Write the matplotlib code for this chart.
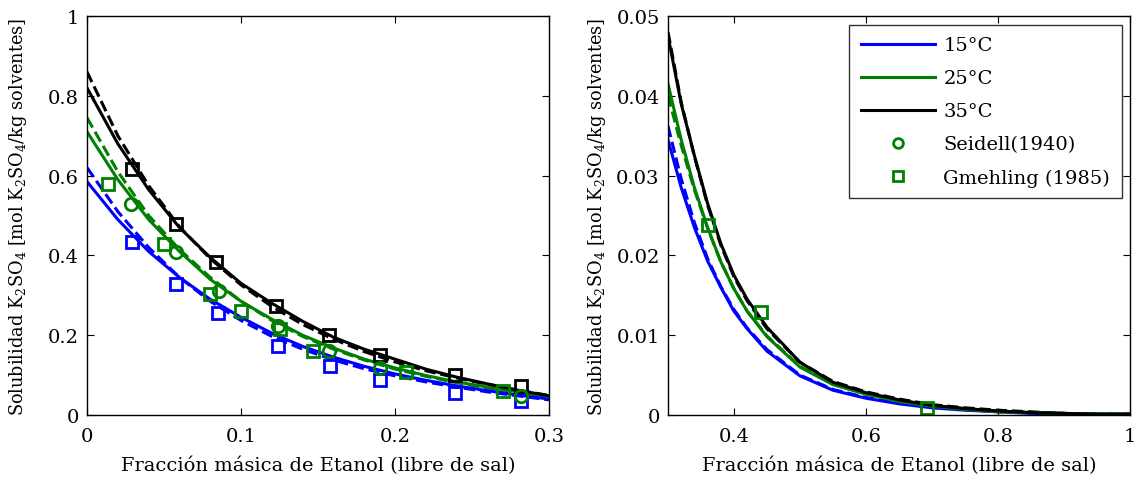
import matplotlib
matplotlib.use("Agg")
import matplotlib.pyplot as plt

plt.rcParams['font.family'] = ['DejaVu Serif']
plt.rcParams['mathtext.fontset'] = 'dejavuserif'

# ---------------- data: left panel ----------------
x_left = [0, 0.02, 0.04, 0.06, 0.08, 0.10, 0.12, 0.14, 0.16, 0.18, 0.20, 0.22, 0.24, 0.26, 0.28, 0.30]
s35_solid_l = [0.82, 0.68, 0.565, 0.47, 0.395, 0.33, 0.28, 0.235, 0.195, 0.165, 0.14, 0.115, 0.095, 0.078, 0.062, 0.048]
s35_dash_l = [0.86, 0.70, 0.575, 0.472, 0.392, 0.326, 0.272, 0.227, 0.19, 0.159, 0.133, 0.111, 0.093, 0.077, 0.062, 0.049]
s25_solid_l = [0.71, 0.59, 0.49, 0.41, 0.34, 0.285, 0.24, 0.2, 0.168, 0.14, 0.118, 0.099, 0.083, 0.07, 0.058, 0.047]
s25_dash_l = [0.745, 0.61, 0.50, 0.415, 0.345, 0.285, 0.237, 0.197, 0.165, 0.138, 0.115, 0.097, 0.081, 0.068, 0.057, 0.046]
s15_solid_l = [0.585, 0.49, 0.41, 0.345, 0.29, 0.245, 0.205, 0.172, 0.145, 0.122, 0.103, 0.087, 0.073, 0.061, 0.05, 0.04]
s15_dash_l = [0.62, 0.51, 0.42, 0.345, 0.285, 0.237, 0.197, 0.165, 0.138, 0.116, 0.098, 0.083, 0.07, 0.058, 0.048, 0.038]

gm35_x = [0.029, 0.058, 0.084, 0.123, 0.157, 0.19, 0.239, 0.282]
gm35_y = [0.617, 0.479, 0.383, 0.273, 0.2, 0.15, 0.1, 0.073]
gm15_x = [0.029, 0.058, 0.085, 0.124, 0.158, 0.19, 0.239, 0.282]
gm15_y = [0.434, 0.328, 0.256, 0.173, 0.123, 0.088, 0.055, 0.035]
gm25_x = [0.0136, 0.05, 0.08, 0.1, 0.125, 0.147, 0.207, 0.27]
gm25_y = [0.579, 0.429, 0.303, 0.261, 0.215, 0.16, 0.108, 0.06]
sei25_x = [0.0286, 0.058, 0.086, 0.124, 0.157, 0.19, 0.282]
sei25_y = [0.529, 0.408, 0.31, 0.223, 0.16, 0.118, 0.048]

# ---------------- data: right panel ----------------
x_right = [0.30, 0.32, 0.34, 0.36, 0.38, 0.40, 0.42, 0.45, 0.50, 0.55, 0.60, 0.65, 0.70, 0.75, 0.80, 0.85, 0.90, 0.95, 1.0]
s35_solid_r = [0.0475, 0.039, 0.0325, 0.0265, 0.0215, 0.0175, 0.0145, 0.011, 0.0066, 0.0041, 0.0028, 0.0019, 0.0012, 0.0008, 0.0005, 0.0003, 0.0002, 0.0001, 0.0001]
s35_dash_r = [0.048, 0.0392, 0.0324, 0.0263, 0.0213, 0.0173, 0.0143, 0.0108, 0.0066, 0.0042, 0.0029, 0.002, 0.0013, 0.0009, 0.0006, 0.0004, 0.0002, 0.0001, 0.0001]
s25_solid_r = [0.0415, 0.0345, 0.0285, 0.0235, 0.0192, 0.0158, 0.013, 0.0098, 0.006, 0.0038, 0.0026, 0.0017, 0.0011, 0.0007, 0.0004, 0.0003, 0.0002, 0.0001, 0.0001]
s25_dash_r = [0.040, 0.0338, 0.0282, 0.0234, 0.0192, 0.0158, 0.013, 0.0099, 0.0061, 0.0039, 0.0027, 0.0018, 0.0012, 0.0008, 0.0005, 0.0003, 0.0002, 0.0001, 0.0001]
s15_solid_r = [0.0345, 0.0285, 0.0235, 0.0193, 0.016, 0.013, 0.0108, 0.008, 0.0049, 0.0031, 0.0021, 0.0014, 0.0009, 0.0006, 0.0004, 0.0002, 0.0001, 0.0001, 0.0001]
s15_dash_r = [0.0362, 0.0296, 0.0241, 0.0196, 0.0161, 0.0132, 0.0109, 0.0082, 0.005, 0.0032, 0.0022, 0.0015, 0.001, 0.0007, 0.0004, 0.0003, 0.0002, 0.0001, 0.0001]
gm25_rx = [0.361, 0.441, 0.692]
gm25_ry = [0.0238, 0.0129, 0.0009]

xlabel = 'Fracción másica de Etanol (libre de sal)'
ylabel = 'Solubilidad K$_2$SO$_4$ [mol K$_2$SO$_4$/kg solventes]'

BLUE = '#0000ff'
GREEN = '#008000'
BLACK = '#000000'
FS = 14
YFS = 12.8
LW = 2.2
MS = 9
MEW = 2

fig = plt.figure(figsize=(11.41, 4.81), dpi=100)
ax1 = fig.add_axes([87/1141, 1 - 416/481, 462/1141, 399/481])
ax2 = fig.add_axes([668/1141, 1 - 416/481, 462/1141, 399/481])

def style(ax):
    ax.tick_params(direction='in', top=True, right=True, labelsize=FS, length=5, width=0.8, colors='black')
    ax.tick_params(axis='x', pad=9)
    ax.tick_params(axis='y', pad=6)
    for s in ax.spines.values():
        s.set_linewidth(1.0)
        s.set_color('black')
    ax.set_xlabel(xlabel, fontsize=FS, labelpad=7)
    ax.set_ylabel(ylabel, fontsize=YFS, labelpad=4)

# left panel
ax1.plot(x_left, s15_dash_l, '--', color=BLUE, lw=LW)
ax1.plot(x_left, s25_dash_l, '--', color=GREEN, lw=LW)
ax1.plot(x_left, s35_dash_l, '--', color=BLACK, lw=LW)
ax1.plot(x_left, s15_solid_l, '-', color=BLUE, lw=LW)
ax1.plot(x_left, s25_solid_l, '-', color=GREEN, lw=LW)
ax1.plot(x_left, s35_solid_l, '-', color=BLACK, lw=LW)
ax1.plot(gm35_x, gm35_y, 's', ms=MS, mfc='none', mec=BLACK, mew=MEW)
ax1.plot(gm15_x, gm15_y, 's', ms=MS, mfc='none', mec=BLUE, mew=MEW)
ax1.plot(gm25_x, gm25_y, 's', ms=MS, mfc='none', mec=GREEN, mew=MEW)
ax1.plot(sei25_x, sei25_y, 'o', ms=MS, mfc='none', mec=GREEN, mew=MEW)
ax1.set_xlim(0, 0.3)
ax1.set_ylim(0, 1)
ax1.set_xticks([0, 0.1, 0.2, 0.3])
ax1.set_xticklabels(['0', '0.1', '0.2', '0.3'])
ax1.set_yticks([0, 0.2, 0.4, 0.6, 0.8, 1])
ax1.set_yticklabels(['0', '0.2', '0.4', '0.6', '0.8', '1'])
style(ax1)

# right panel
ax2.plot(x_right, s15_dash_r, '--', color=BLUE, lw=LW)
ax2.plot(x_right, s25_dash_r, '--', color=GREEN, lw=LW)
ax2.plot(x_right, s35_dash_r, '--', color=BLACK, lw=LW)
h15, = ax2.plot(x_right, s15_solid_r, '-', color=BLUE, lw=LW, label='15°C')
h25, = ax2.plot(x_right, s25_solid_r, '-', color=GREEN, lw=LW, label='25°C')
h35, = ax2.plot(x_right, s35_solid_r, '-', color=BLACK, lw=LW, label='35°C')
hs, = ax2.plot([], [], 'o', ms=7, mfc='none', mec=GREEN, mew=MEW, label='Seidell(1940)')
hg, = ax2.plot(gm25_rx, gm25_ry, 's', ms=MS, mfc='none', mec=GREEN, mew=MEW, label='Gmehling (1985)')
ax2.set_xlim(0.3, 1)
ax2.set_ylim(0, 0.05)
ax2.set_xticks([0.4, 0.6, 0.8, 1.0])
ax2.set_xticklabels(['0.4', '0.6', '0.8', '1'])
ax2.set_yticks([0, 0.01, 0.02, 0.03, 0.04, 0.05])
ax2.set_yticklabels(['0', '0.01', '0.02', '0.03', '0.04', '0.05'])
style(ax2)

hg_leg, = ax2.plot([], [], 's', ms=7, mfc='none', mec=GREEN, mew=MEW)
leg = ax2.legend([h15, h25, h35, hs, hg_leg],
                 ['15°C', '25°C', '35°C', 'Seidell(1940)', 'Gmehling (1985)'],
                 loc='upper right', bbox_to_anchor=(0.982, 0.978), borderaxespad=0,
                 fontsize=FS, frameon=True, fancybox=False, handlelength=3.8,
                 labelspacing=0.77, borderpad=0.6, handletextpad=0.45)
leg.get_frame().set_edgecolor('black')
leg.get_frame().set_linewidth(1.0)

ax1.yaxis.set_label_coords(-0.125, 0.5)
ax2.yaxis.set_label_coords(-0.13, 0.5)

fig.savefig('out.png', dpi=100)
